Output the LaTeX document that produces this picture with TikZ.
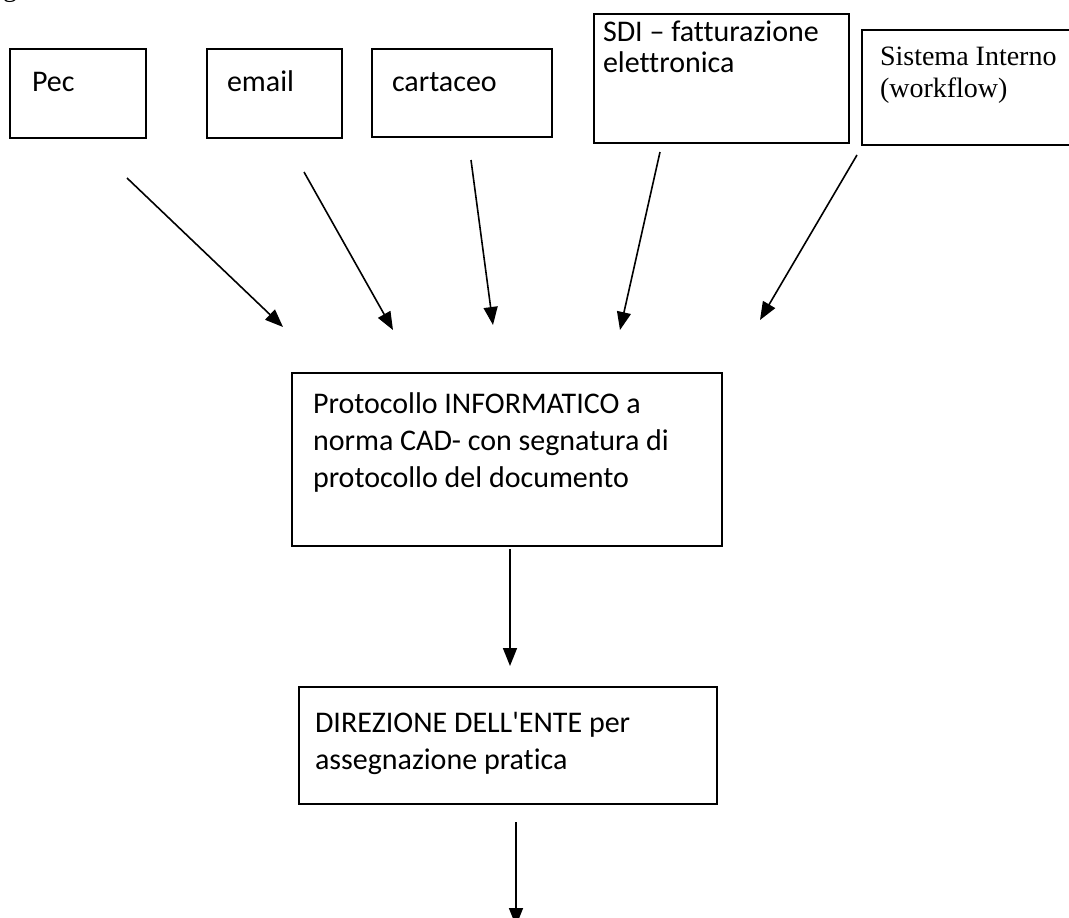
\documentclass[tikz,border=0pt]{standalone}
\usepackage{fontspec}
\setmainfont{Carlito}[Ligatures={TeXOff,NoCommon}]
\newfontfamily\garfont{Liberation Serif}
\usetikzlibrary{arrows.meta}
\begin{document}
\begin{tikzpicture}[x=1pt,y=-1pt,
  box/.style={draw,line width=2.4pt,outer sep=0pt,inner sep=0pt,anchor=north west},
  lbl/.style={anchor=base west,inner sep=0pt,outer sep=0pt,font=\fontsize{30}{37}\selectfont,align=left},
  glbl/.style={anchor=base west,inner sep=0pt,outer sep=0pt,font=\garfont\fontsize{28}{32}\selectfont,align=left},
  arr/.style={line width=1.6pt,-{Triangle[length=18pt,width=14pt]}}]
\useasboundingbox (0,0) rectangle (1069,918);
\clip (0,0) rectangle (1069,918);
% cut-off caption fragment
\node[glbl] (frag) at (3,-3) {g};
% source boxes
\node[box,minimum width=136pt,minimum height=89pt] (pec) at (10,49) {};
\node[box,minimum width=135pt,minimum height=89pt] (email) at (207,49) {};
\node[box,minimum width=180pt,minimum height=88pt] (cart) at (372,49) {};
\node[box,minimum width=255pt,minimum height=129pt] (sdi) at (594,14) {};
\node[box,minimum width=215pt,minimum height=115pt] (sist) at (862,30) {};
\node[lbl] (pecT) at (32,91) {Pec};
\node[lbl] (emailT) at (227,91) {email};
\node[lbl] (cartT) at (392,91) {cartaceo};
% anchor = baseline of the last line
\node[lbl,font=\fontsize{30}{31}\selectfont] (sdiT) at (603,72) {SDI – fatturazione\\elettronica};
\node[glbl] (sistT) at (880,97) {Sistema Interno\\(workflow)};
% arrows to protocol
\coordinate (a1s) at (127,178); \coordinate (a1e) at (283,327);
\coordinate (a2s) at (304,172); \coordinate (a2e) at (393,330);
\coordinate (a3s) at (471,160); \coordinate (a3e) at (493,325);
\coordinate (a4s) at (660,152); \coordinate (a4e) at (620,330);
\coordinate (a5s) at (857,155); \coordinate (a5e) at (760,320);
\draw[arr] (a1s) -- (a1e);
\draw[arr] (a2s) -- (a2e);
\draw[arr] (a3s) -- (a3e);
\draw[arr] (a4s) -- (a4e);
\draw[arr] (a5s) -- (a5e);
% protocol box
\node[box,minimum width=430pt,minimum height=173pt] (prot) at (292,373) {};
\node[lbl] (protT) at (313,487) {Protocollo INFORMATICO a\\norma CAD- con segnatura di\\protocollo del documento};
\coordinate (p1s) at (510,549); \coordinate (p1e) at (510,666);
\draw[arr] (p1s) -- (p1e);
% direzione box
\node[box,minimum width=418pt,minimum height=117pt] (dir) at (299,687) {};
\node[lbl] (dirT) at (315,769) {DIREZIONE DELL'ENTE per\\assegnazione pratica};
\coordinate (d1s) at (516,822); \coordinate (d1e) at (516,926);
\draw[arr] (d1s) -- (d1e);
\end{tikzpicture}
\end{document}
